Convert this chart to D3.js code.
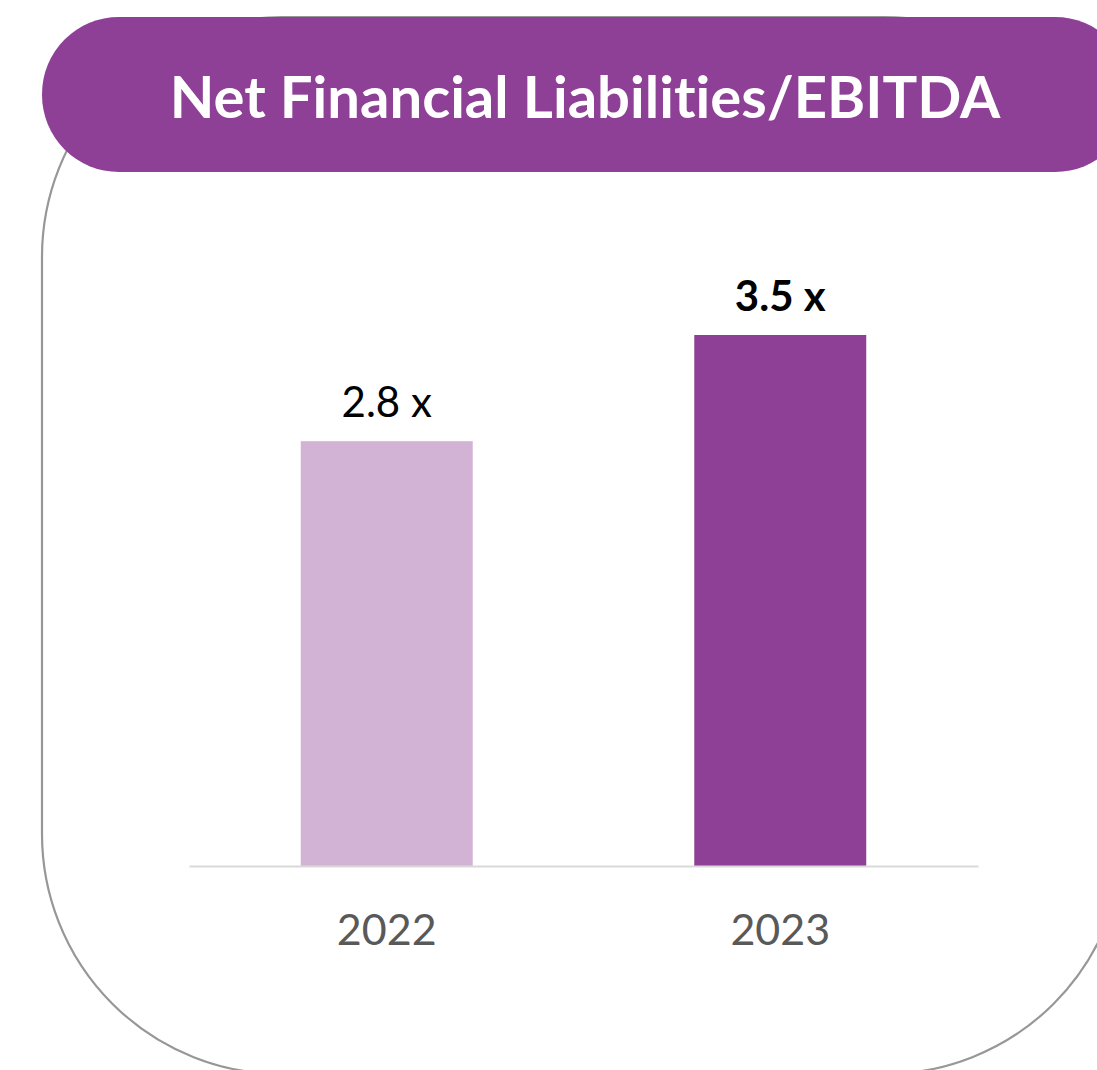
<!DOCTYPE html>
<html>
<head>
<meta charset="utf-8">
<script src="https://cdn.jsdelivr.net/npm/d3@7"></script>
<style>
  html, body { margin: 0; padding: 0; background: #fff; }
  svg { display: block; font-family: Lato, "Open Sans", sans-serif; font-variant-ligatures: none; }
</style>
</head>
<body>
<svg id="chart" width="1097" height="1070"></svg>
<script>
// chart data
const years = ['2022', '2023'];
const ratios = [2.8, 3.5];
const barColors = ['#d2b3d5', '#8e4096'];
const title = 'Net Financial Liabilities/EBITDA';

const svg = d3.select('#chart');

// outer frame, partly clipped by the page edge
svg.append('rect')
  .attr('x', 42).attr('y', 17)
  .attr('width', 1082).attr('height', 1057)
  .attr('rx', 240).attr('ry', 240)
  .style('fill', 'none')
  .style('stroke', '#979797')
  .style('stroke-width', 2.2);

// title banner
svg.append('rect')
  .attr('x', 42).attr('y', 17)
  .attr('width', 1090).attr('height', 155)
  .attr('rx', 77).attr('ry', 77)
  .style('fill', '#8e4096');

svg.append('text')
  .attr('x', 585).attr('y', 118)
  .attr('text-anchor', 'middle')
  .style('fill', '#fff')
  .style('font-weight', 'bold')
  .style('font-size', '58px')
  .text(title);

// scales
const x = d3.scaleBand()
  .domain(years)
  .range([189, 978])
  .paddingInner(0.563)
  .paddingOuter(0.284);

const y = d3.scaleLinear()
  .domain([0, 3.5])
  .range([866, 335]);

// bars
svg.selectAll('rect.bar')
  .data(years)
  .enter().append('rect')
  .attr('class', 'bar')
  .attr('x', d => x(d))
  .attr('y', (d, i) => y(ratios[i]))
  .attr('width', x.bandwidth())
  .attr('height', (d, i) => y(0) - y(ratios[i]))
  .style('fill', (d, i) => barColors[i]);

// value labels
svg.selectAll('text.value')
  .data(years)
  .enter().append('text')
  .attr('class', 'value')
  .attr('x', d => x(d) + x.bandwidth() / 2)
  .attr('y', (d, i) => y(ratios[i]) - 24)
  .attr('text-anchor', 'middle')
  .style('fill', '#000')
  .style('font-size', '42px')
  .style('font-weight', (d, i) => i === 1 ? 'bold' : 'normal')
  .text((d, i) => `${ratios[i].toFixed(1)} x`);

// x axis
const xAxis = d3.axisBottom(x).tickSize(0).tickPadding(0);
const gx = svg.append('g')
  .attr('class', 'x axis')
  .attr('transform', `translate(0, ${y(0)})`)
  .call(xAxis);

gx.select('.domain')
  .style('stroke', '#d9d9d9')
  .style('stroke-width', 2);

gx.selectAll('.tick text')
  .attr('dy', null)
  .attr('y', 79)
  .style('fill', '#595959')
  .style('font-size', '43px')
  .style('font-family', 'Lato, "Open Sans", sans-serif');
</script>
</body>
</html>
